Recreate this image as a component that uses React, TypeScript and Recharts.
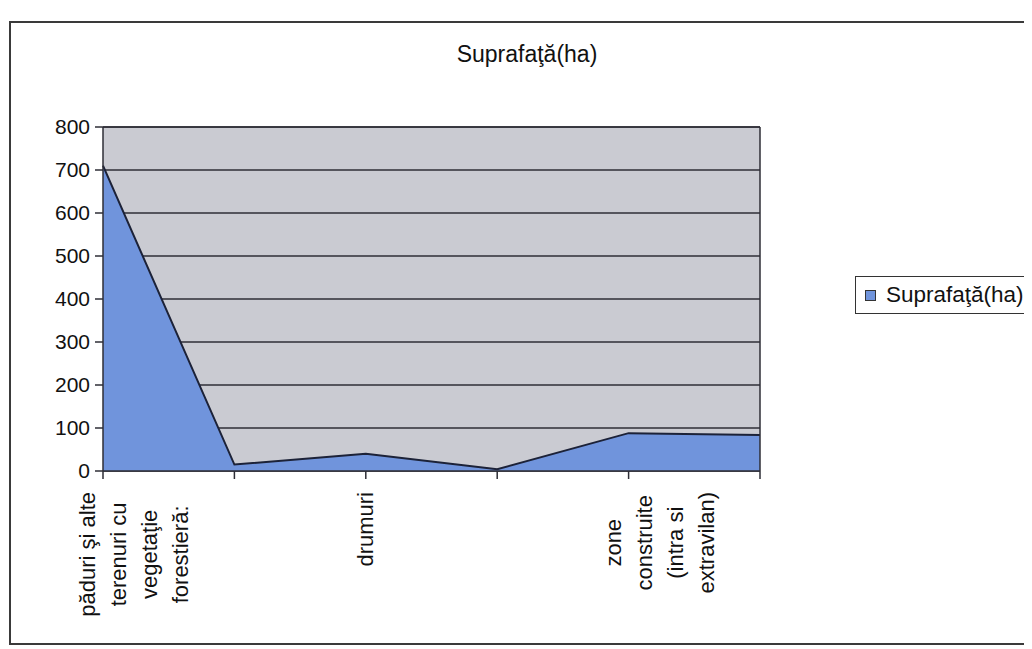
import React from "react"
import { Area, AreaChart, CartesianGrid, ReferenceLine, XAxis, YAxis } from "recharts"

const title = "Suprafaţă(ha)"
const seriesName = "Suprafaţă(ha)"

const categories = [
    "păduri şi alte terenuri cu vegetaţie forestieră:",
    "ape şi terenuri cu ape",
    "drumuri",
    "terenuri neproductive",
    "zone construite (intra si extravilan)",
    "alte terenuri",
]
const values = [710, 15, 40, 4, 88, 84]
const yTicks = [0, 100, 200, 300, 400, 500, 600, 700, 800]

const data = categories.map((name, i) => ({ name, value: values[i] }))

const FONT = "'Liberation Sans', Arial, sans-serif"
const LABEL_SIZE = 22
const LINE_GAP = 31

function wrap(text: string, max: number) {
    const words = text.split(" ")
    const lines: string[] = []
    let cur = ""
    for (const w of words) {
        if (cur === "") cur = w
        else if ((cur + " " + w).length <= max) cur = cur + " " + w
        else {
            lines.push(cur)
            cur = w
        }
    }
    if (cur) lines.push(cur)
    return lines
}

let ctx: CanvasRenderingContext2D | null = null
function textWidth(s: string) {
    if (!ctx) ctx = document.createElement("canvas").getContext("2d")
    if (!ctx) return s.length * LABEL_SIZE * 0.55
    ctx.font = `${LABEL_SIZE}px ${FONT}`
    return ctx.measureText(s).width
}

// every other category gets a label, like the original
function CategoryTick(props: any) {
    const { x, y, payload, index } = props
    if (index % 2 !== 0) return null
    const lines = wrap(payload.value, 14)
    const longest = Math.max(...lines.map(textWidth))
    let first = x - ((lines.length - 1) * LINE_GAP) / 2
    if (first < x - 15) first = x - 15
    const cy = y + 11 + longest / 2
    return (
        <g>
            {lines.map((l, i) => {
                const lx = first + i * LINE_GAP
                return (
                    <text
                        key={i}
                        x={lx}
                        y={cy}
                        transform={`rotate(-90 ${lx} ${cy})`}
                        textAnchor="middle"
                        dominantBaseline="central"
                        fontSize={LABEL_SIZE}
                        fontFamily={FONT}
                        fill="#111"
                    >
                        {l}
                    </text>
                )
            })}
        </g>
    )
}

export default function App() {
    return (
        <div style={{ position: "relative", width: 1024, height: 641, fontFamily: FONT, overflow: "hidden" }}>
            <div
                style={{
                    position: "absolute",
                    left: 1,
                    top: 13,
                    width: 1040,
                    height: 624,
                    border: "2px solid #3a3a3a",
                    boxSizing: "border-box",
                }}
            />
            <div
                style={{
                    position: "absolute",
                    left: 0,
                    width: 1038,
                    top: 33,
                    textAlign: "center",
                    fontSize: 23,
                    color: "#111",
                }}
            >
                {title}
            </div>
            <div
                style={{
                    position: "absolute",
                    left: 847,
                    top: 268,
                    width: 200,
                    height: 38,
                    border: "1.5px solid #333",
                    boxSizing: "border-box",
                    display: "flex",
                    alignItems: "center",
                    fontSize: 22.5,
                    color: "#111",
                    whiteSpace: "nowrap",
                }}
            >
                <span
                    style={{
                        display: "inline-block",
                        width: 9,
                        height: 9,
                        background: "#7094dc",
                        border: "1.5px solid #333",
                        marginLeft: 9,
                        marginRight: 10,
                    }}
                />
                {seriesName}
            </div>
            <div style={{ position: "absolute", left: 0, top: 0 }}>
                <AreaChart
                    width={1024}
                    height={641}
                    data={data}
                    margin={{ top: 119, right: 272, bottom: 0, left: 0 }}
                >
                    <CartesianGrid
                        vertical={false}
                        fill="#cacbd2"
                        fillOpacity={1}
                        stroke="#2e2e36"
                        strokeWidth={1.5}
                    />
                    <XAxis
                        dataKey="name"
                        interval={0}
                        height={178}
                        tickSize={8}
                        tick={<CategoryTick />}
                        stroke="#2e2e36"
                        strokeWidth={1.5}
                    />
                    <YAxis
                        width={95}
                        domain={[0, 800]}
                        ticks={yTicks}
                        interval={0}
                        tickSize={8}
                        tickMargin={5}
                        stroke="#2e2e36"
                        strokeWidth={1.5}
                        tick={{ fill: "#111", fontSize: 21, fontFamily: FONT }}
                    />
                    <Area
                        type="linear"
                        dataKey="value"
                        name={seriesName}
                        stroke="#1c2238"
                        strokeWidth={2}
                        fill="#7094dc"
                        fillOpacity={1}
                        isAnimationActive={false}
                    />
                    <ReferenceLine x={categories[categories.length - 1]} stroke="#2e2e36" strokeWidth={1.5} />
                    <ReferenceLine y={800} stroke="#2e2e36" strokeWidth={1.5} />
                </AreaChart>
            </div>
        </div>
    )
}
